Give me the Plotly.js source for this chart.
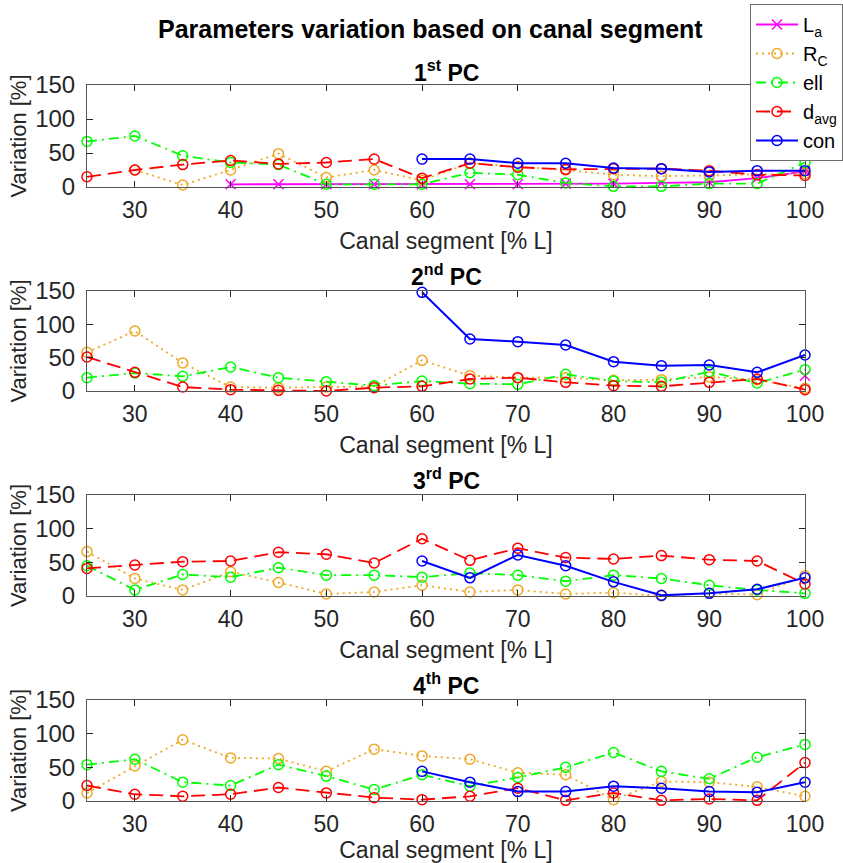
<!DOCTYPE html>
<html>
<head>
<meta charset="utf-8">
<script src="https://cdn.plot.ly/plotly-3.0.1.min.js"></script>
<style>html,body{margin:0;padding:0;background:#fff;}#chart{width:843px;height:863px;}</style>
</head>
<body>
<div id="chart"></div>
<script>
// Canal segment positions [% L]
const segments = [25,30,35,40,45,50,55,60,65,70,75,80,85,90,95,100];
const xTicks = [30,40,50,60,70,80,90,100];
const yTicks = [0,50,100,150];

const seriesNames = ['L<sub>a</sub>','R<sub>C</sub>','ell','d<sub>avg</sub>','con'];
const panelTitles = ['1<sup>st</sup> PC','2<sup>nd</sup> PC','3<sup>rd</sup> PC','4<sup>th</sup> PC'];

// 1st PC
const La1  = [null,null,null,4,4,4,4,4,4,4,5,5,6,7,13,23];
const Rc1  = [null,25,3,25,49,14,25,10,35,30,25,18,16,17,18,20];
const ell1 = [67,75,46,36,33,4,4,4,21,18,6,1,1,5,5,36];
const d1   = [15,25,33,39,34,36,41,13,35,29,26,27,27,24,18,17];
const con1 = [null,null,null,null,null,null,null,41,41,35,35,28,27,22,24,24];
// 2nd PC
const La2  = [null,null,null,null,null,null,null,null,null,null,null,null,null,null,null,23];
const Rc2  = [58,90,42,6,5,6,7,46,23,20,20,16,17,21,17,4];
const ell2 = [20,27,22,36,20,14,8,15,11,10,25,15,13,29,12,32];
const d2   = [51,28,6,2,1,0,5,7,18,20,13,8,7,13,18,2];
const con2 = [null,null,null,null,null,null,null,148,78,74,69,44,38,39,28,54];
// 3rd PC
const La3  = [null,null,null,null,null,null,null,null,null,null,null,null,null,null,null,null];
const Rc3  = [66,26,9,36,20,3,6,16,6,9,3,5,0,4,2,30];
const ell3 = [45,9,32,28,42,31,31,28,34,31,22,31,26,16,9,4];
const d3   = [41,46,51,52,65,62,49,85,53,71,57,55,60,54,52,18];
const con3 = [null,null,null,null,null,null,null,52,27,61,45,21,1,4,10,27];
// 4th PC
const La4  = [null,null,null,null,null,null,null,null,null,null,null,null,null,null,null,null];
const Rc4  = [12,52,91,64,63,44,77,67,62,42,39,2,29,28,21,7];
const ell4 = [54,62,28,23,54,37,17,39,22,35,50,72,44,33,65,84];
const d4   = [23,10,7,10,20,12,5,2,7,19,1,12,1,3,1,57];
const con4 = [null,null,null,null,null,null,null,44,28,14,14,22,19,14,13,28];

const panels = [
  [La1,Rc1,ell1,d1,con1],
  [La2,Rc2,ell2,d2,con2],
  [La3,Rc3,ell3,d3,con3],
  [La4,Rc4,ell4,d4,con4]
];

const colors = ['#ff00ff','#EDA825','#00ff00','#ff0000','#0000ff'];
const dashes = ['solid','2px,4px','10px,5px,2px,5px','14px,7px','solid'];
const symbols = ['x-thin-open','circle-open','circle-open','circle-open','circle-open'];

const FONT = 'Liberation Sans, Arial, Helvetica, sans-serif';
const traces = [];
panels.forEach((series, p) => {
  const ax = p === 0 ? '' : String(p + 1);
  series.forEach((vals, s) => {
    traces.push({
      x: segments, y: vals, type: 'scatter', mode: 'lines+markers',
      name: seriesNames[s], legendgroup: 's' + s, showlegend: p === 0,
      xaxis: 'x' + ax, yaxis: 'y' + ax, connectgaps: false, cliponaxis: false,
      line: {color: colors[s], width: s === 4 ? 2 : 1.8, dash: dashes[s]},
      marker: {symbol: symbols[s], size: 10, color: colors[s], line: {color: colors[s], width: 1.5}}
    });
  });
});

// pixel -> paper helpers (plot area 87..805 horizontally, 85..801 vertically)
const areaTop = 85, areaBottom = 801, areaH = areaBottom - areaTop;
const py = y => (areaBottom - y) / areaH;
const domains = [[187,85],[391,291],[596,495],[801,700]];

const layout = {
  width: 843, height: 863,
  margin: {l: 87, r: 38, t: 85, b: 62, autoexpand: false},
  paper_bgcolor: '#ffffff', plot_bgcolor: '#ffffff',
  font: {family: FONT, size: 17, color: '#262626'},
  showlegend: true,
  legend: {
    x: (750 - 87) / 718, y: py(4), xanchor: 'left', yanchor: 'top',
    bgcolor: '#ffffff', bordercolor: '#6e6e6e', borderwidth: 1,
    font: {family: FONT, size: 20, color: '#000'},
    itemwidth: 42, tracegroupgap: 0
  },
  annotations: [
    {text: '<b>Parameters variation based on canal segment</b>', xref: 'paper', yref: 'paper',
     x: (430 - 87) / 718, y: py(29), xanchor: 'center', yanchor: 'middle', showarrow: false,
     font: {family: FONT, size: 25, color: '#000'}}
  ]
};

const titleY = [71, 275, 479, 684];
domains.forEach((d, i) => {
  const ax = i === 0 ? '' : String(i + 1);
  layout['xaxis' + ax] = {
    domain: [0, 1], anchor: 'y' + ax, range: [25, 100],
    tickvals: xTicks, ticks: 'inside', ticklen: 6, tickcolor: '#262626',
    showline: true, linecolor: '#555', linewidth: 1, mirror: 'ticks',
    showgrid: false, zeroline: false, ticklabelstandoff: 2,
    tickfont: {family: FONT, size: 23, color: '#262626'},
    title: {text: 'Canal segment [% L]', font: {family: FONT, size: 23, color: '#262626'}, standoff: 11}
  };
  layout['yaxis' + ax] = {
    domain: [py(d[0]), py(d[1])], anchor: 'x' + ax, range: [0, 150],
    tickvals: yTicks, ticks: 'inside', ticklen: 6, tickcolor: '#262626',
    showline: true, linecolor: '#555', linewidth: 1, mirror: 'ticks',
    showgrid: false, zeroline: false, ticklabelstandoff: 6,
    tickfont: {family: FONT, size: 24, color: '#262626'},
    title: {text: 'Variation [%]', font: {family: FONT, size: 22, color: '#262626'}, standoff: 2}
  };
  layout.annotations.push({
    text: '<b>' + panelTitles[i] + '</b>', xref: 'paper', yref: 'paper',
    x: 0.5, y: py(titleY[i]), xanchor: 'center', yanchor: 'middle', showarrow: false,
    font: {family: FONT, size: 23, color: '#000'}
  });
});

Plotly.newPlot('chart', traces, layout, {displayModeBar: false, staticPlot: true});
</script>
</body>
</html>
